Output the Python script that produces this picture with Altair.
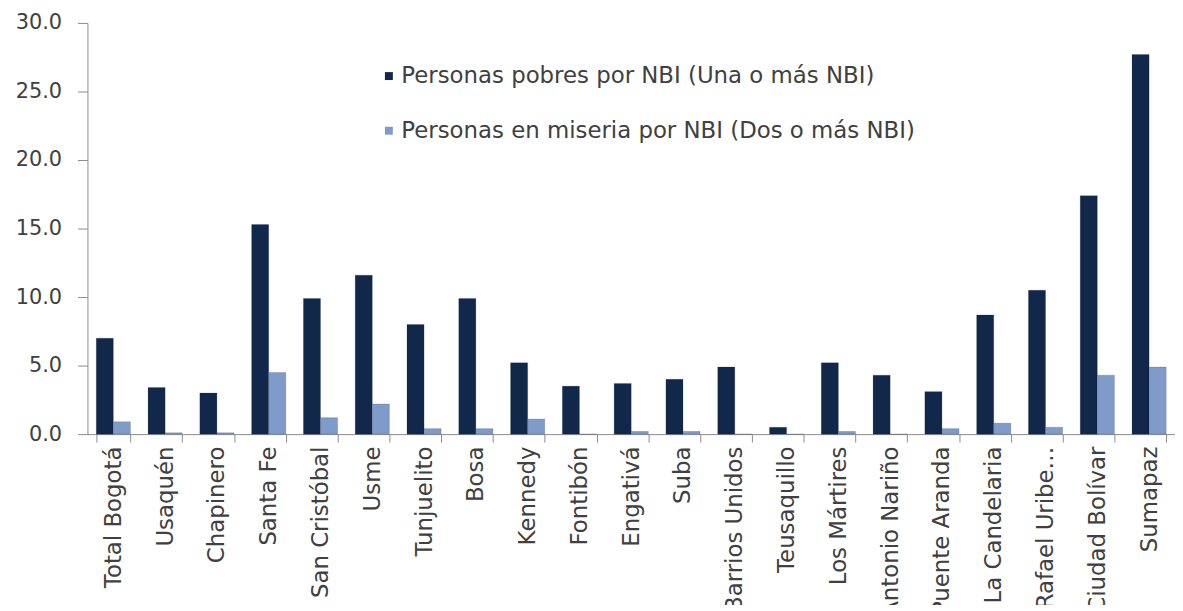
import altair as alt
import pandas as pd

localidades = ["Total Bogotá", "Usaquén", "Chapinero", "Santa Fe", "San Cristóbal", "Usme",
               "Tunjuelito", "Bosa", "Kennedy", "Fontibón", "Engativá", "Suba",
               "Barrios Unidos", "Teusaquillo", "Los Mártires", "Antonio Nariño",
               "Puente Aranda", "La Candelaria", "Rafael Uribe…", "Ciudad Bolívar", "Sumapaz"]
pobres = [7.0, 3.4, 3.0, 15.3, 9.9, 11.6, 8.0, 9.9, 5.2, 3.5, 3.7, 4.0,
          4.9, 0.5, 5.2, 4.3, 3.1, 8.7, 10.5, 17.4, 27.7]
miseria = [0.9, 0.1, 0.1, 4.5, 1.2, 2.2, 0.4, 0.4, 1.1, 0.0, 0.2, 0.2,
           0.0, 0.0, 0.2, 0.0, 0.4, 0.8, 0.5, 4.3, 4.9]
series = ["Personas pobres por NBI (Una o más NBI)",
          "Personas en miseria por NBI (Dos o más NBI)"]
y_ticks = [0, 5, 10, 15, 20, 25, 30]

rows = []
for i, loc in enumerate(localidades):
    rows.append({"localidad": loc, "serie": series[0], "valor": pobres[i]})
    rows.append({"localidad": loc, "serie": series[1], "valor": miseria[i]})
df = pd.DataFrame(rows)

FONT = "DejaVu Sans"
TXT = "#404040"

chart = alt.Chart(df).mark_bar(stroke="#0a1a33", strokeWidth=0.4, strokeOpacity=0.4).encode(
    x=alt.X("localidad:N", sort=localidades,
            scale=alt.Scale(paddingInner=0.34, paddingOuter=0.17),
            axis=alt.Axis(title=None, labelAngle=-90, labelAlign="right", labelBaseline="middle",
                          labelFont=FONT, labelFontSize=23, labelColor=TXT, labelPadding=4,
                          tickBand="extent", tickSize=8, tickColor="#8c8c8c",
                          domainColor="#8c8c8c", labelLimit=300)),
    xOffset=alt.XOffset("serie:N", sort=series, scale=alt.Scale(paddingInner=0, paddingOuter=0)),
    y=alt.Y("valor:Q", scale=alt.Scale(domain=[0, 30], nice=False),
            axis=alt.Axis(title=None, values=y_ticks, format=".1f", grid=False,
                          labelFont=FONT, labelFontSize=21, labelColor=TXT, labelPadding=16,
                          tickSize=10, tickColor="#8c8c8c", domainColor="#8c8c8c")),
    color=alt.Color("serie:N", sort=series,
                    scale=alt.Scale(domain=series, range=["#11284a", "#7f9bc9"]),
                    legend=alt.Legend(title=None, orient="none", legendX=292, legendY=42,
                                      symbolType="square", symbolSize=64, symbolStrokeWidth=0,
                                      labelFont=FONT, labelFontSize=23, labelColor=TXT,
                                      labelOffset=1, rowPadding=31, labelLimit=600)),
).properties(
    width=1095, height=414,
    autosize=alt.AutoSizeParams(type="none"),
    padding={"left": 80, "top": 13, "right": 0, "bottom": 170},
).configure_view(stroke=None)

chart.save("out.html", embed_options={"renderer": "svg", "actions": False})
